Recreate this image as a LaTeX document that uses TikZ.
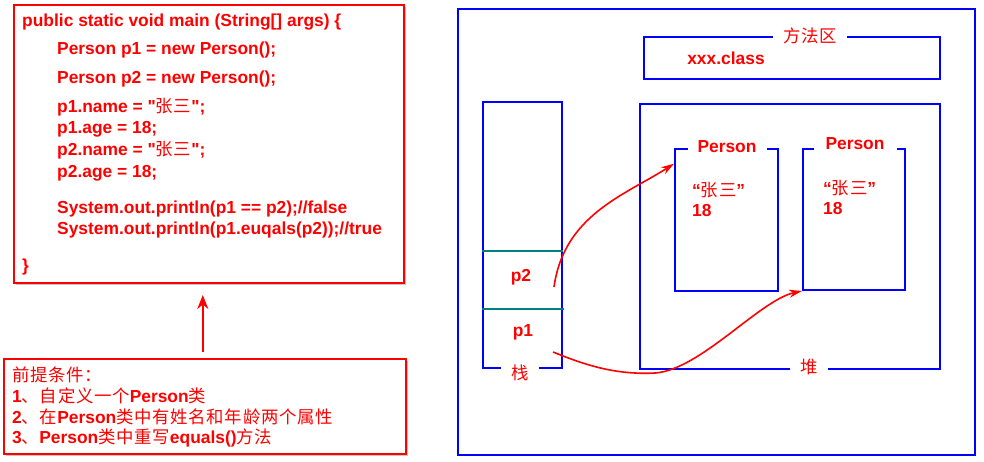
\documentclass[tikz,border=0pt]{standalone}
\usepackage{fontspec}
\setmainfont{Liberation Sans}[Ligatures=TeXOff]
\newfontfamily\cjk{Noto Sans CJK SC}[LetterSpace=4]
\newcommand\zh[1]{{\cjk\mdseries #1}}
\usetikzlibrary{positioning,arrows.meta,shadows}

\begin{document}
\begin{tikzpicture}[x=1pt, y=-1pt,
  txt/.style={text=red, inner sep=0pt, font=\fontsize{17.4}{20}\selectfont\bfseries},
  redbox/.style={draw=red, line width=1.6pt, fill=white, anchor=north west,
    drop shadow={shadow xshift=2.5pt, shadow yshift=-2.5pt, opacity=0.45}},
  bluebox/.style={draw=blue, line width=2pt, anchor=north west},
  gaplabel/.style={txt, fill=white, inner xsep=10pt, inner ysep=1pt},
  cellline/.style={draw=teal, line width=1.5pt},
  ptr/.style={red, line width=1.6pt, -{Stealth[length=13pt, width=8pt]}},
  uparrow/.style={red, line width=2.6pt, -{Stealth[length=14pt, width=11pt]}}
]
\useasboundingbox (0,0) rectangle (984,462);

% Code
\node[redbox, minimum width=390, minimum height=278] (code) at (13,4) {};
\foreach \x/\y/\line [count=\k] in {
  22/27/{public static void main (String[] args) \{},
  57/55/{Person p1 = new Person();},
  57/84/{Person p2 = new Person();},
  57/113/{p1.name = "\zh{张三}";},
  57/134/{p1.age = 18;},
  57/156/{p2.name = "\zh{张三}";},
  57/178/{p2.age = 18;},
  57/214/{System.out.println(p1 == p2);//false},
  57/235/{System.out.println(p1.euqals(p2));//true},
  22/271/{\}}
} {
  \node[txt, anchor=base west] (code\k) at (\x,\y) {\line};
}

% Conditions
\node[redbox, minimum width=402, minimum height=95] (cond) at (3,358) {};
\foreach \y/\line [count=\k] in {
  381/{\zh{前提条件：}},
  402/{1\zh{、自定义一个}Person\zh{类}},
  423/{2\zh{、在}Person\zh{类中有姓名和年龄两个属性}},
  443/{3\zh{、}Person\zh{类中重写}equals()\zh{方法}}
} {
  \node[txt, anchor=base west] (cond\k) at (12,\y) {\line};
}
\draw[uparrow] ([xshift=-2pt, yshift=6pt]cond.north) -- ++(0,-57);

% Memory
\node[bluebox, minimum width=517, minimum height=446] (jvm) at (457,8) {};

\node[bluebox, minimum width=296, minimum height=42] (method) at (643,36) {};
\node[gaplabel] (methodlbl) at (810,36) {\zh{方法区}};
\node[txt] (xclass) at (726,58) {xxx.class};

\node[bluebox, minimum width=79, minimum height=266] (stack) at (482,101) {};
\node[gaplabel] (stacklbl) at (520,373) {\zh{栈}};
\draw[cellline] (482,251) -- (563,251);
\draw[cellline] (482,309) -- (564,309);
\node[txt] (p2) at (521,277) {p2};
\node[txt] (p1) at (523,332) {p1};

\node[bluebox, minimum width=300, minimum height=265] (heap) at (639,103) {};
\node[gaplabel] (heaplbl) at (809,367) {\zh{堆}};

\node[bluebox, minimum width=103, minimum height=142] (obj1) at (674,148) {};
\node[gaplabel] (obj1lbl) at (727,147) {Person};
\node[txt, anchor=west] (obj1name) at (692,190) {“\zh{张三}”};
\node[txt, anchor=west] (obj1age) at (692,211) {18};

\node[bluebox, minimum width=102, minimum height=141] (obj2) at (802,148) {};
\node[gaplabel, inner xsep=12pt] (obj2lbl) at (855,144) {Person};
\node[txt, anchor=west] (obj2name) at (823,188) {“\zh{张三}”};
\node[txt, anchor=west] (obj2age) at (823,209) {18};

% References
\coordinate (p2ptr) at (554,287);
\coordinate (p1ptr) at (553,352);
\draw[ptr] (p2ptr) .. controls (564,215) and (625,195) .. (obj1.133);
\draw[ptr] (p1ptr) .. controls (585,365) and (615,375) .. (655,373)
  .. controls (700,370) and (760,300) .. (obj2.south west);

\end{tikzpicture}
\end{document}
